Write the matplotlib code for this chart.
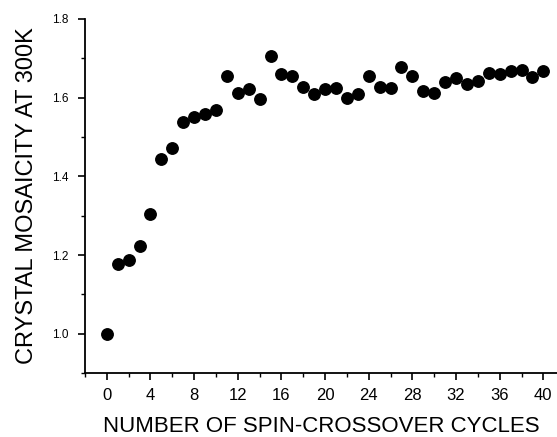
import matplotlib.pyplot as plt
from matplotlib.ticker import MultipleLocator

plt.rcParams['font.family'] = ['Liberation Sans', 'DejaVu Sans']

# --- DADOS ---
ciclos = list(range(0, 41))
mosaicidade = [1.000, 1.177, 1.188, 1.223, 1.303, 1.444, 1.473, 1.538, 1.551, 1.558,
               1.568, 1.656, 1.612, 1.623, 1.596, 1.707, 1.659, 1.656, 1.628, 1.609,
               1.623, 1.624, 1.600, 1.609, 1.656, 1.628, 1.624, 1.679, 1.655, 1.618,
               1.612, 1.640, 1.651, 1.636, 1.643, 1.662, 1.659, 1.667, 1.670, 1.653,
               1.667]
xticks = [0, 4, 8, 12, 16, 20, 24, 28, 32, 36, 40]
yticks = [1.0, 1.2, 1.4, 1.6, 1.8]

fig = plt.figure(figsize=(5.57, 4.37), dpi=100)
W, H = 557, 437
ax = fig.add_axes([85 / W, (H - 373) / H, (W - 85) / W, (373 - 19) / H])

ax.scatter(ciclos, mosaicidade, s=68, color='black', zorder=3, clip_on=False)

ax.set_xlim(-2, 41.25)
ax.set_ylim(0.9, 1.8)
ax.set_xticks(xticks)
ax.set_yticks(yticks)
ax.xaxis.set_minor_locator(MultipleLocator(2))
ax.yaxis.set_minor_locator(MultipleLocator(0.1))

for s in ['top', 'right']:
    ax.spines[s].set_visible(False)
for s in ['left', 'bottom']:
    ax.spines[s].set_linewidth(1.3)

ax.tick_params(axis='both', which='major', direction='out', length=5, width=1.2)
ax.tick_params(axis='both', which='minor', direction='out', length=3, width=1.0)
ax.tick_params(axis='x', which='major', labelsize=12, pad=6)
ax.tick_params(axis='y', which='major', labelsize=8.5, pad=7)

ax.set_xlabel('NUMBER OF SPIN-CROSSOVER CYCLES', fontsize=16, labelpad=9)
ax.set_ylabel('CRYSTAL MOSAICITY AT 300K', fontsize=17, labelpad=10)

fig.savefig('out.png', dpi=100)
